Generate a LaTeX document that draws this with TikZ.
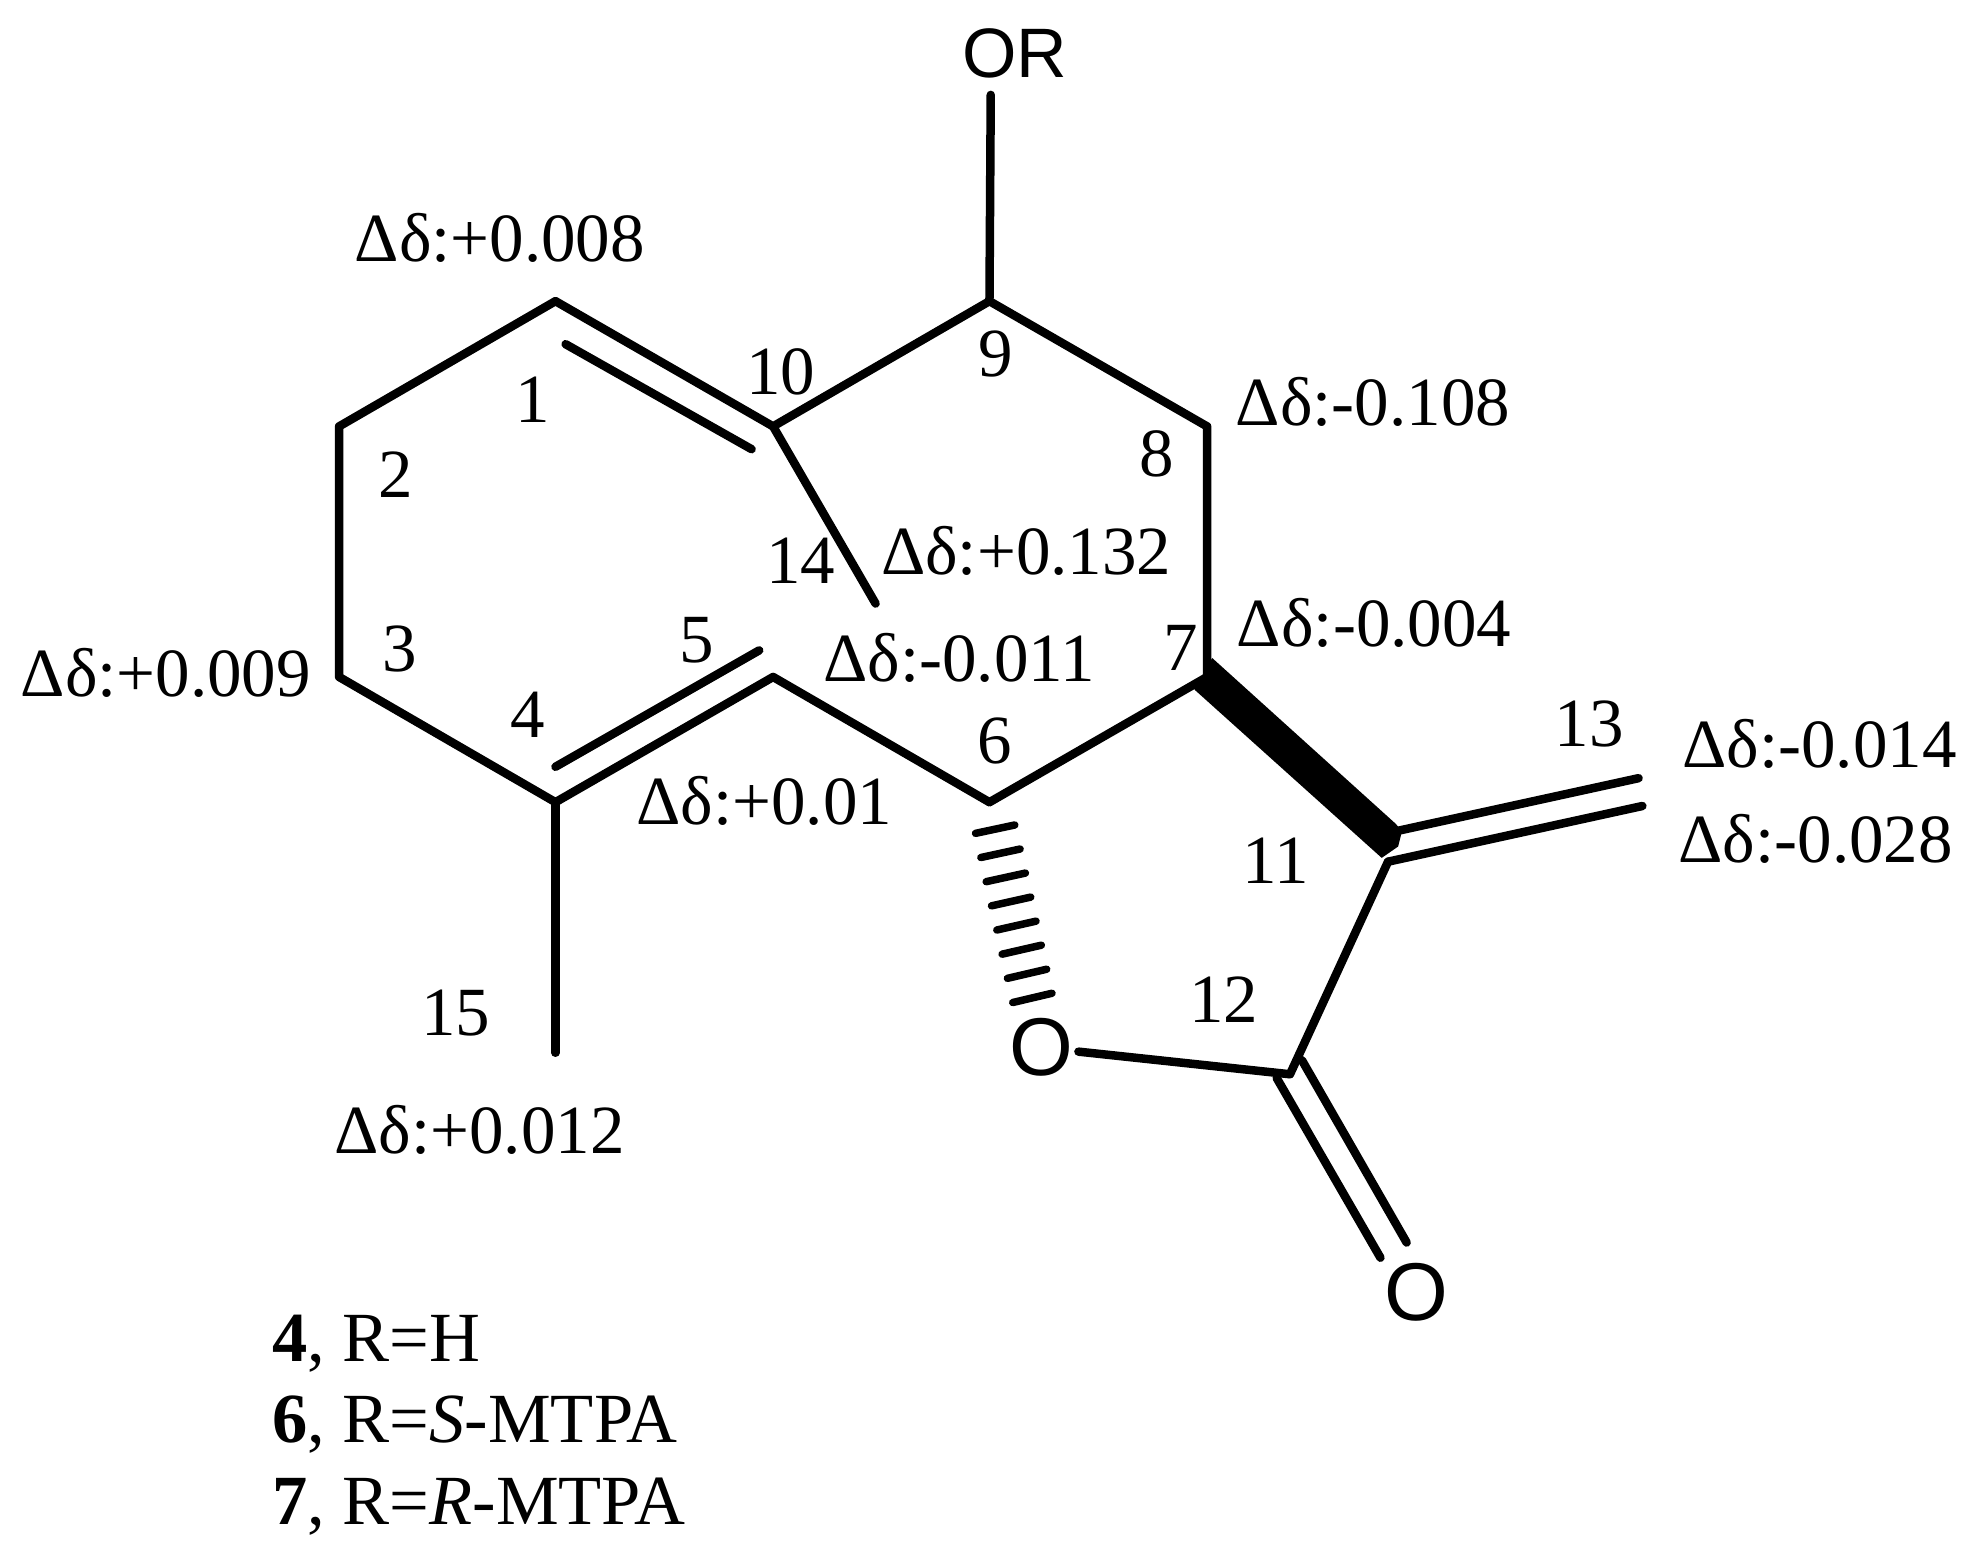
\documentclass[tikz,border=0pt]{standalone}
\usepackage{fontspec}
\setmainfont{Liberation Serif}
\newfontfamily\lsans{Liberation Sans}
\tikzset{x=1.2653pt,y=-1.2653pt,
 bond/.style={line width=8.5pt,line cap=round,line join=round,black},
 hashbar/.style={line width=7.5pt,line cap=round,black},
 lab/.style={font=\fontsize{69}{69}\selectfont,inner sep=0pt,text=black},
 leg/.style={font=\fontsize{70.5}{70.5}\selectfont,inner sep=0pt,text=black,anchor=west},
 atom/.style={font=\lsans\fontsize{82}{82}\selectfont,inner sep=5pt,text=black},
 atomr/.style={font=\lsans\fontsize{70}{70}\selectfont,inner sep=5pt,text=black}}
\newcommand{\dd}{Δδ}
\begin{document}
\begin{tikzpicture}
\useasboundingbox (0,0) rectangle (1568,1229.8);
\fill[white] (0,0) rectangle (1568,1229.8);
% atoms
\coordinate (c1) at (439,238);
\coordinate (c2) at (268,337);
\coordinate (c3) at (268,535);
\coordinate (c4) at (439,634);
\coordinate (c5) at (611,535);
\coordinate (c6) at (782,634);
\coordinate (c7) at (954,535);
\coordinate (c8) at (954,337);
\coordinate (c9) at (782,238);
\coordinate (c10) at (611,337);
\coordinate (c11) at (1097,681);
\coordinate (c12) at (1019.5,849);
\coordinate (c14) at (692,477);
\coordinate (c15) at (439,832);
\coordinate (d1a) at (447,272);
\coordinate (d1b) at (594,355);
\coordinate (d4a) at (439,606);
\coordinate (d4b) at (600,514);
\coordinate (orb) at (783,75);
\coordinate (ca) at (1009,852);\coordinate (cb) at (1091,994);
\coordinate (cc) at (1029,838);\coordinate (cd) at (1111.7,982);
\coordinate (ea) at (1103,657);\coordinate (eb) at (1295,615);
\coordinate (ec) at (1097,681);\coordinate (ed) at (1298,637);
\node[atomr] (OR) at (802,42) {OR};
\node[atom] (O1) at (823,828) {O};
\node[atom] (O2) at (1119.5,1021) {O};
% bonds
\draw[bond] (c1)--(c2)--(c3)--(c4)--(c5)--(c6);
\draw[bond] (c6)--(c7)--(c8)--(c9)--(c10)--(c1);
\draw[bond] (d1a)--(d1b);
\draw[bond] (d4a)--(d4b);
\draw[bond] (c10)--(c14);
\draw[bond] (c4)--(c15);
\draw[bond] (c9)--(orb);
\draw[bond] (c12)--(c11);
\draw[bond] (O1)--(c12);
\draw[bond] (ca)--(cb);
\draw[bond] (cc)--(cd);
\draw[bond] (ea)--(eb);
\draw[bond] (ec)--(ed);
\fill[black] (958,520)--(1103,651)--(1108,657)--(1105,669)--(1092,678)--(944,545)--cycle;
% hash
\foreach \i in {0,...,7}{\draw[hashbar] ({771+4.2*\i},{658.6+19.1*\i})--({802+4.2*\i},{652+19*\i});}
% labels
\node[lab] (l1) at (421,316) {1};
\node[lab] (l2) at (313,375) {2};
\node[lab] (l3) at (316,513) {3};
\node[lab] (l4) at (417,565) {4};
\node[lab] (l5) at (551,506) {5};
\node[lab] (l6) at (786,586) {6};
\node[lab] (l7) at (933,512) {7};
\node[lab] (l8) at (914,359) {8};
\node[lab] (l9) at (787,280) {9};
\node[lab] (l10) at (617,294) {10};
\node[lab] (l11) at (1008,680) {11};
\node[lab] (l12) at (967,790) {12};
\node[lab] (l13) at (1256,572) {13};
\node[lab] (l14) at (633,443) {14};
\node[lab] (l15) at (360,801) {15};
\node[lab] (a) at (395,188) {\dd:+0.008};
\node[lab] (b) at (1085,318) {\dd:-0.108};
\node[lab] (c) at (811,435) {\dd:+0.132};
\node[lab] (e) at (1086,492) {\dd:-0.004};
\node[lab] (f) at (131,532) {\dd:+0.009};
\node[lab] (g) at (758,520) {\dd:-0.011};
\node[lab] (h) at (604,633) {\dd:+0.01};
\node[lab] (i) at (1438,588) {\dd:-0.014};
\node[lab] (j) at (1435,663) {\dd:-0.028};
\node[lab] (k) at (379,893) {\dd:+0.012};
\node[leg] (m) at (215,1062) {\textbf{4}, R=H};
\node[leg] (n) at (215,1126) {\textbf{6}, R=\textit{S}-MTPA};
\node[leg] (o) at (215,1191) {\textbf{7}, R=\textit{R}-MTPA};
\end{tikzpicture}
\end{document}
